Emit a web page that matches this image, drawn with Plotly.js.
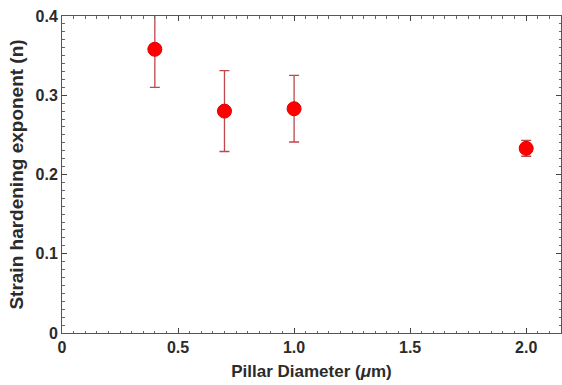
<!DOCTYPE html>
<html>
<head>
<meta charset="utf-8">
<script src="https://cdn.plot.ly/plotly-3.0.1.min.js"></script>
<style>
  html, body { margin: 0; padding: 0; background: #fff; }
  #chart { width: 562px; height: 385px; }
</style>
</head>
<body>
<div id="chart"></div>
<script>
// Pillar diameter (µm) vs strain hardening exponent n, with error bars
const diameters = [0.4, 0.7, 1.0, 2.0];
const exponentN = [0.358, 0.280, 0.283, 0.233];
const exponentErr = [0.048, 0.051, 0.042, 0.010];

const xTickVals = [0, 0.5, 1.0, 1.5, 2.0];
const xTickText = ['0', '0.5', '1.0', '1.5', '2.0'];
const yTickVals = [0, 0.1, 0.2, 0.3, 0.4];
const yTickText = ['0', '0.1', '0.2', '0.3', '0.4'];

const tickFont = { family: 'Liberation Sans, Arial, sans-serif', size: 16, color: '#2b2b2b', weight: 'bold' };
const xTitleFont = { family: 'Liberation Sans, Arial, sans-serif', size: 17, color: '#2b2b2b', weight: 'bold' };
const yTitleFont = { family: 'Liberation Sans, Arial, sans-serif', size: 19, color: '#2b2b2b', weight: 'bold' };

const trace = {
  x: diameters,
  y: exponentN,
  type: 'scatter',
  mode: 'markers',
  marker: { color: '#ff0000', size: 14, line: { color: '#e00000', width: 1 } },
  error_y: {
    type: 'data',
    array: exponentErr,
    visible: true,
    color: '#c0474a',
    thickness: 1.3,
    width: 5
  },
  hoverinfo: 'x+y'
};

const layout = {
  width: 562,
  height: 385,
  margin: { l: 62, r: 1, t: 16, b: 52 },
  paper_bgcolor: '#ffffff',
  plot_bgcolor: '#ffffff',
  showlegend: false,
  xaxis: {
    range: [0, 2.15],
    tickvals: xTickVals,
    ticktext: xTickText,
    ticks: 'inside',
    ticklen: 5,
    tickwidth: 1,
    tickcolor: '#444',
    showline: true,
    linecolor: '#555',
    linewidth: 1,
    mirror: 'ticks',
    showgrid: false,
    zeroline: false,
    tickfont: tickFont,
    minor: { dtick: 0.05, tick0: 0, ticks: 'inside', ticklen: 2.5, tickcolor: '#666', showgrid: false },
    title: { text: 'Pillar Diameter (<i>\u03bc</i>m)', font: xTitleFont, standoff: 9 }
  },
  yaxis: {
    range: [0, 0.4],
    tickvals: yTickVals,
    ticktext: yTickText,
    ticks: 'inside',
    ticklen: 5,
    tickwidth: 1,
    tickcolor: '#444',
    showline: true,
    linecolor: '#555',
    linewidth: 1,
    mirror: 'ticks',
    showgrid: false,
    zeroline: false,
    tickfont: tickFont,
    minor: { dtick: 0.01, tick0: 0, ticks: 'inside', ticklen: 2.5, tickcolor: '#666', showgrid: false },
    title: { text: 'Strain hardening exponent (n)', font: yTitleFont, standoff: 6 }
  }
};

Plotly.newPlot('chart', [trace], layout, { displayModeBar: false, staticPlot: true });
</script>
</body>
</html>
